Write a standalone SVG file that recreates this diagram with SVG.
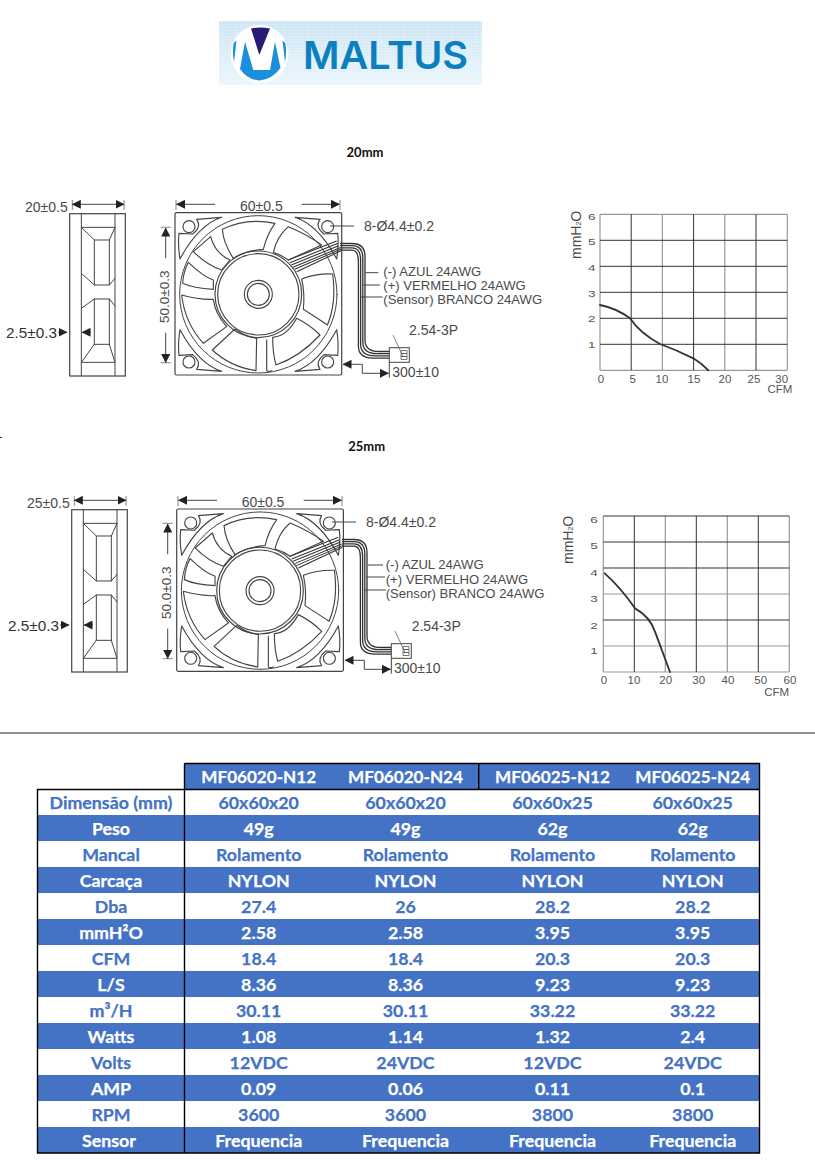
<svg xmlns="http://www.w3.org/2000/svg" xmlns:xlink="http://www.w3.org/1999/xlink" width="815" height="1173" viewBox="0 0 815 1173">
<style>
.d{font-family:"Liberation Sans",Arial,sans-serif;fill:#4a4a4a}
.f14{font-size:14px}.f13{font-size:13.1px}
.ln{fill:none;stroke:#444;stroke-width:1}
.thin{fill:none;stroke:#666;stroke-width:.8}
.z{fill:none;stroke:#444;stroke-width:3.4;stroke-linejoin:round;stroke-linecap:round}
.dk{stroke:#333;stroke-width:1}.gr{stroke:#999;stroke-width:1.2}
.ax{font-family:"Liberation Sans",Arial,sans-serif;font-size:11.5px;fill:#555;text-anchor:middle}
.ay{font-family:"Liberation Sans",Arial,sans-serif;font-size:10px;fill:#555;text-anchor:middle}
.curve{fill:none;stroke:#333;stroke-width:5.5;stroke-linecap:round}
.t{font-family:Lato,"Open Sans",sans-serif;font-weight:700;font-size:17.8px;text-anchor:middle;fill:#4472c4;stroke:#4472c4;stroke-width:.25}
.w{fill:#fff;stroke:#fff}
.h{font-size:17.100px}
.ttl{font-family:Lato,"Open Sans",sans-serif;font-weight:700;font-size:13px;text-anchor:middle;fill:#111}
.bar{fill:#4472c4}
.b{stroke:#000;stroke-width:1.4;fill:none}
</style>
<defs>
<linearGradient id="lg" x1="0" y1="0" x2="0" y2="1"><stop offset="0" stop-color="#cbe4f4"/><stop offset="1" stop-color="#e9f6fc"/></linearGradient>
<pattern id="pt" width="3" height="3" patternUnits="userSpaceOnUse"><path d="M3 0H0V3" fill="none" stroke="#fff" stroke-opacity=".45" stroke-width=".8"/></pattern>
<marker id="ah" markerWidth="9" markerHeight="9" refX="8.500" refY="4.500" orient="auto-start-reverse" markerUnits="userSpaceOnUse"><path d="M0 0L9 4.500L0 9Z" fill="#222"/></marker>
<path id="corner" d="M590 118L665 112Q595 135 540 237Q533 195 537 160L578 162Q606 140 590 118Z"/>
<g id="fan">
<rect x="175" y="212.700" width="166.700" height="162.300" rx="1.500" fill="none" stroke="#444" stroke-width="1.200"/>
<g transform="scale(.33333) translate(0 540)">
<g class="z">
<circle cx="775" cy="343" r="236" style="stroke-width:3"/>
<circle cx="775" cy="343" r="130"/><circle cx="775" cy="343" r="122"/>
<circle cx="775" cy="343" r="42"/><circle cx="775" cy="343" r="33"/>
<circle cx="567" cy="140" r="18"/><circle cx="983" cy="140" r="18"/><circle cx="567" cy="546" r="18"/><circle cx="983" cy="546" r="18"/>
<use xlink:href="#corner"/>
<use xlink:href="#corner" transform="translate(1550 0) scale(-1 1)"/>
<use xlink:href="#corner" transform="translate(0 686) scale(1 -1)"/>
<use xlink:href="#corner" transform="translate(1550 686) scale(-1 -1)"/>
<path d="M667 148Q740 112 825 130Q800 165 790 208Q735 212 700 235Q670 190 667 148Z"/>
<path d="M820 218Q830 170 865 140Q925 165 965 195L865 240Q845 225 820 218Z"/>
<path d="M580 215L632 170Q645 220 690 240L665 270Q620 255 580 215Z"/>
<path d="M565 247Q610 290 640 300L640 328Q580 325 548 310Q550 275 565 247Z"/>
<path d="M545 345Q600 360 640 358Q645 400 680 440L610 490Q555 430 545 345Z"/>
<path d="M637 510L705 447Q735 470 770 475L768 572Q690 560 637 510Z"/>
<path d="M818 472Q860 470 890 415Q930 435 960 465Q900 530 828 555Q818 520 818 472Z"/>
<path d="M910 388Q915 340 905 297Q950 280 998 282Q1010 370 982 435Q960 420 910 388Z"/>
<path d="M800 480L800 572Q806 576 815 572"/>
</g>
<g fill="none" stroke="#333" stroke-width="3.200">
<path d="M865 240L1010 183M870 248L1014 190M874 255L1016 197M879 262L1020 203M884 268L1022 208M890 275L1022 213"/>
</g>
</g>
</g>
<g id="side">
<rect x="69.700" y="213.700" width="55.600" height="162.300" fill="none" stroke="#444" stroke-width="1.200"/>
<g transform="scale(.33333) translate(0 540)" class="z" style="stroke-width:3">
<path d="M244 100V588M345 100V588M244 142H345M244 142L283 180H328L345 142M283 180V315M328 180V315M244 280L283 315H328L345 295M244 385L283 357H328L345 378M283 357V493M328 357V493M283 493H328M283 493L244 547H345L328 493"/>
</g>
</g>
<g id="wires" fill="none" stroke="#333" stroke-width="1.300">
<path d="M340 243.500H352Q365 243.500 365 256.500V340Q365 351.500 379 351.500H390"/>
<path d="M340 245.700H352Q362.800 245.700 362.800 258V342Q362.800 353.700 377 353.700H390"/>
<path d="M340 247.900H352Q360.600 247.900 360.600 260V344Q360.600 355.900 375 355.900H390"/>
<path d="M340 250.100H352Q358.400 250.100 358.400 262V346Q358.400 358.100 373 358.100H390"/>
</g>
</defs>

<g id="logo">
<rect x="219" y="21" width="263" height="63.700" fill="url(#lg)"/>
<rect x="219" y="21" width="263" height="63.700" fill="url(#pt)"/>
<circle cx="259.500" cy="54" r="29" fill="#fff"/>
<path d="M245 41.700L253.300 70H270L275 41.700L280.500 68Q272 79.500 259.500 80.500Q247 79.500 240 69Z" fill="#1a90dc"/>
<path d="M233.700 43L236.500 40.500L234 62Q232 52 233.700 43ZM285.300 43L282.500 40.500L285 62Q287 52 285.300 43Z" fill="#1a90dc"/>
<path d="M251 28.500Q260 26.500 270 28.500L259.300 55Z" fill="#2a1a78"/>
<text x="303" y="69.300" font-family="Inter,Liberation Sans,sans-serif" font-weight="600" font-size="38.500" fill="#0b7fc0" textLength="165" lengthAdjust="spacingAndGlyphs">MALTUS</text>
</g>

<text id="title-20" class="ttl" x="365" y="157">20mm</text>
<text id="title-25" class="ttl" x="366.700" y="451">25mm</text>
<rect x="0" y="437" width="2" height="1" fill="#222"/>

<g id="fan-20">
<use xlink:href="#side"/><use xlink:href="#fan"/><use xlink:href="#wires"/>
<rect x="389.300" y="347.700" width="20" height="14.600" fill="#fff" stroke="#444" stroke-width="1"/>
<path d="M401 350.500h6v3h-6zM401 353.500h6v3h-6zM401 356.500h6v3h-6z" fill="none" stroke="#555" stroke-width=".8"/>
<g class="d f14">
<text x="25" y="211.700">20±0.5</text>
<text x="240" y="211">60±0.5</text>
<text x="364" y="230.700">8-Ø4.4±0.2</text>
<text x="409" y="335">2.54-3P</text>
<text x="392.300" y="376.700">300±10</text>
<text x="6" y="337.700" style="font-size:15.300px;fill:#333">2.5±0.3</text>
<text transform="translate(169 323) rotate(-90)" style="font-size:13.500px">50.0±0.3</text>
</g>
<g class="d f13">
<text x="383.300" y="276">(-) AZUL 24AWG</text>
<text x="383.300" y="290">(+) VERMELHO 24AWG</text>
<text x="383.300" y="304.300">(Sensor) BRANCO 24AWG</text>
</g>
</g>

<g id="fan-25">
<g transform="translate(2 296)"><use xlink:href="#side"/></g>
<g transform="translate(1.700 296.300)"><use xlink:href="#fan"/></g>
<g transform="translate(2 296)"><use xlink:href="#wires"/>
<rect x="389.300" y="347.700" width="20" height="14.600" fill="#fff" stroke="#444" stroke-width="1"/>
<path d="M401 350.500h6v3h-6zM401 353.500h6v3h-6zM401 356.500h6v3h-6z" fill="none" stroke="#555" stroke-width=".8"/>
</g>
<g class="d f14">
<text x="27" y="507.700">25±0.5</text>
<text x="241.700" y="507">60±0.5</text>
<text x="366" y="526.700">8-Ø4.4±0.2</text>
<text x="411.700" y="631">2.54-3P</text>
<text x="394" y="673">300±10</text>
<text x="8" y="631" style="font-size:15.300px;fill:#333">2.5±0.3</text>
<text transform="translate(171 619) rotate(-90)" style="font-size:13.500px">50.0±0.3</text>
</g>
<g class="d f13">
<text x="385.700" y="569.300">(-) AZUL 24AWG</text>
<text x="385.700" y="583.500">(+) VERMELHO 24AWG</text>
<text x="385.700" y="598">(Sensor) BRANCO 24AWG</text>
</g>
</g>

<g id="connectors">
<g id="dims-20" class="ln">
<path d="M72.300 200V210M124 200V210M176 200V210M340 200V210M160.700 227.300H170.700M160.700 362.700H170.700" class="thin"/>
<path d="M72.300 204.300H124" marker-start="url(#ah)" marker-end="url(#ah)"/>
<path d="M215 204.300H176.500" marker-end="url(#ah)"/>
<path d="M301.700 204.300H339.500" marker-end="url(#ah)"/>
<path d="M165.700 258.300V228" marker-end="url(#ah)"/>
<path d="M165.700 332.700V362.500" marker-end="url(#ah)"/>
<path d="M58 332.300H67" marker-end="url(#ah)"/>
<path d="M91 332.300H82" marker-end="url(#ah)"/>
<path d="M330 226H354"/>
<path d="M365 272.700H378.300M363 285H380M361 297H382.700"/>
<path d="M393 335L403.300 357" transform="translate(0 0)" class="thin"/>
<path d="M389.300 362.300V377.700"/>
<path d="M362.300 364.300H343" marker-end="url(#ah)"/>
<path d="M362.300 364.300V373.300H388.500" marker-end="url(#ah)"/>
</g>
<g id="dims-25" class="ln" transform="translate(2 296)">
<path d="M72.300 200V210M124 200V210M176 200V210M340 200V210M160.700 227.300H170.700M160.700 362.700H170.700" class="thin"/>
<path d="M72.300 204.300H124" marker-start="url(#ah)" marker-end="url(#ah)"/>
<path d="M215 204.300H176.500" marker-end="url(#ah)"/>
<path d="M301.700 204.300H339.500" marker-end="url(#ah)"/>
<path d="M165.700 258.300V228" marker-end="url(#ah)"/>
<path d="M165.700 332.700V362.500" marker-end="url(#ah)"/>
<path d="M58 329H67" marker-end="url(#ah)"/>
<path d="M91 329H82" marker-end="url(#ah)"/>
<path d="M330 226H354"/>
<path d="M366 269H381M364 281H383M362 294H384"/>
<path d="M393 335L403.300 357" class="thin"/>
<path d="M389.300 362.300V377.700"/>
<path d="M362.300 364.300H343" marker-end="url(#ah)"/>
<path d="M362.300 364.300V373.300H388.500" marker-end="url(#ah)"/>
</g>
</g>

<g id="chart-20">
<path class="gr" d="M600 214.300V370.300M662.400 214.300V370.300M724.800 214.300V370.300M787.300 214.300V370.300M600 214.300H787.300M600 370.300H787.300"/>
<path class="dk" d="M631.200 214.300V370.300M693.600 214.300V370.300M756 214.300V370.300M600 240.300H787.300M600 266.300H787.300M600 292.300H787.300M600 318.300H787.300M600 344.300H787.300"/>
<g transform="translate(330 200) scale(.33333)"><path class="curve" d="M810 315Q860 325 900 355Q930 400 990 432Q1040 450 1090 475Q1115 490 1135 511"/></g>
<g class="ay">
<text transform="translate(591.700 220.200) scale(1.350 .9)">6</text>
<text transform="translate(591.700 245.200) scale(1.350 .9)">5</text>
<text transform="translate(591.700 270.500) scale(1.350 .9)">4</text>
<text transform="translate(591.700 296.500) scale(1.350 .9)">3</text>
<text transform="translate(591.700 322.200) scale(1.350 .9)">2</text>
<text transform="translate(591.700 348) scale(1.350 .9)">1</text>
</g>
<g class="ax">
<text x="601" y="382.700">0</text><text x="632.700" y="382.700">5</text><text x="662" y="382.700">10</text><text x="694" y="382.700">15</text><text x="725" y="382.700">20</text><text x="754" y="382.700">25</text><text x="781.700" y="382.700">30</text><text x="780" y="392.700">CFM</text>
</g>
<text class="d" transform="translate(580.700 259) rotate(-90)" font-size="14">mmH<tspan font-size="7">2</tspan>O</text>
</g>

<g id="chart-25">
<path class="gr" d="M603.300 516V672M665.300 516V672M727.300 516V672M789.300 516V672M603.300 594H789.300M603.300 646H789.300M603.300 672H789.300"/>
<path class="dk" d="M634.300 516V672M696.300 516V672M758.300 516V672M603.300 516H789.300M603.300 542H789.300M603.300 568H789.300M603.300 620H789.300"/>
<g transform="translate(330 500) scale(.33333)"><path class="curve" d="M824 220Q870 260 915 325Q960 350 975 395L1020 516"/></g>
<g class="ay">
<text transform="translate(594 523) scale(1.350 .9)">6</text>
<text transform="translate(594 549) scale(1.350 .9)">5</text>
<text transform="translate(594 575.500) scale(1.350 .9)">4</text>
<text transform="translate(594 602.200) scale(1.350 .9)">3</text>
<text transform="translate(594 628.500) scale(1.350 .9)">2</text>
<text transform="translate(594 653.500) scale(1.350 .9)">1</text>
</g>
<g class="ax">
<text x="604" y="684">0</text><text x="634" y="684">10</text><text x="665.700" y="684">20</text><text x="698.700" y="684">30</text><text x="728" y="684">40</text><text x="760.700" y="684">50</text><text x="790" y="684">60</text><text x="776.700" y="696">CFM</text>
</g>
<text class="d" transform="translate(573.300 564) rotate(-90)" font-size="14">mmH<tspan font-size="7">2</tspan>O</text>
</g>

<path id="rule" d="M0 733H815" stroke="#222" stroke-width="1"/>

<g id="table">
<rect class="bar" x="184.500" y="763.500" width="575" height="26"/>
<rect class="bar" x="37.500" y="815" width="722" height="26"/>
<rect class="bar" x="37.500" y="867" width="722" height="26"/>
<rect class="bar" x="37.500" y="919" width="722" height="26"/>
<rect class="bar" x="37.500" y="971" width="722" height="26"/>
<rect class="bar" x="37.500" y="1023" width="722" height="26"/>
<rect class="bar" x="37.500" y="1075" width="722" height="26"/>
<rect class="bar" x="37.500" y="1127" width="722" height="26"/>
<path class="b" d="M37.500 789.500H759.500V1153H37.500ZM184.500 763.500H759.500V789.500M184.500 763.500V1153M478.700 763.500V789.500"/>
<g class="t">
<g class="w h"><text x="258.700" y="783">MF06020-N12</text><text x="405.500" y="783">MF06020-N24</text><text x="552.500" y="783">MF06025-N12</text><text x="692.700" y="783">MF06025-N24</text></g>
<text x="111" y="809">Dimensão (mm)</text><text x="258.700" y="809">60x60x20</text><text x="405.500" y="809">60x60x20</text><text x="552.500" y="809">60x60x25</text><text x="692.700" y="809">60x60x25</text>
<g class="w"><text x="111" y="835">Peso</text><text x="258.700" y="835">49g</text><text x="405.500" y="835">49g</text><text x="552.500" y="835">62g</text><text x="692.700" y="835">62g</text></g>
<text x="111" y="861">Mancal</text><text x="258.700" y="861">Rolamento</text><text x="405.500" y="861">Rolamento</text><text x="552.500" y="861">Rolamento</text><text x="692.700" y="861">Rolamento</text>
<g class="w"><text x="111" y="887">Carcaça</text><text x="258.700" y="887">NYLON</text><text x="405.500" y="887">NYLON</text><text x="552.500" y="887">NYLON</text><text x="692.700" y="887">NYLON</text></g>
<text x="111" y="913">Dba</text><text x="258.700" y="913">27.4</text><text x="405.500" y="913">26</text><text x="552.500" y="913">28.2</text><text x="692.700" y="913">28.2</text>
<g class="w"><text x="111" y="939">mmH²O</text><text x="258.700" y="939">2.58</text><text x="405.500" y="939">2.58</text><text x="552.500" y="939">3.95</text><text x="692.700" y="939">3.95</text></g>
<text x="111" y="965">CFM</text><text x="258.700" y="965">18.4</text><text x="405.500" y="965">18.4</text><text x="552.500" y="965">20.3</text><text x="692.700" y="965">20.3</text>
<g class="w"><text x="111" y="991">L/S</text><text x="258.700" y="991">8.36</text><text x="405.500" y="991">8.36</text><text x="552.500" y="991">9.23</text><text x="692.700" y="991">9.23</text></g>
<text x="111" y="1017">m³/H</text><text x="258.700" y="1017">30.11</text><text x="405.500" y="1017">30.11</text><text x="552.500" y="1017">33.22</text><text x="692.700" y="1017">33.22</text>
<g class="w"><text x="111" y="1043">Watts</text><text x="258.700" y="1043">1.08</text><text x="405.500" y="1043">1.14</text><text x="552.500" y="1043">1.32</text><text x="692.700" y="1043">2.4</text></g>
<text x="111" y="1069">Volts</text><text x="258.700" y="1069">12VDC</text><text x="405.500" y="1069">24VDC</text><text x="552.500" y="1069">12VDC</text><text x="692.700" y="1069">24VDC</text>
<g class="w"><text x="111" y="1095">AMP</text><text x="258.700" y="1095">0.09</text><text x="405.500" y="1095">0.06</text><text x="552.500" y="1095">0.11</text><text x="692.700" y="1095">0.1</text></g>
<text x="111" y="1121">RPM</text><text x="258.700" y="1121">3600</text><text x="405.500" y="1121">3600</text><text x="552.500" y="1121">3800</text><text x="692.700" y="1121">3800</text>
<g class="w"><text x="109" y="1147">Sensor</text><text x="258.700" y="1147">Frequencia</text><text x="405.500" y="1147">Frequencia</text><text x="552.500" y="1147">Frequencia</text><text x="692.700" y="1147">Frequencia</text></g>
</g>
</g>
</svg>
